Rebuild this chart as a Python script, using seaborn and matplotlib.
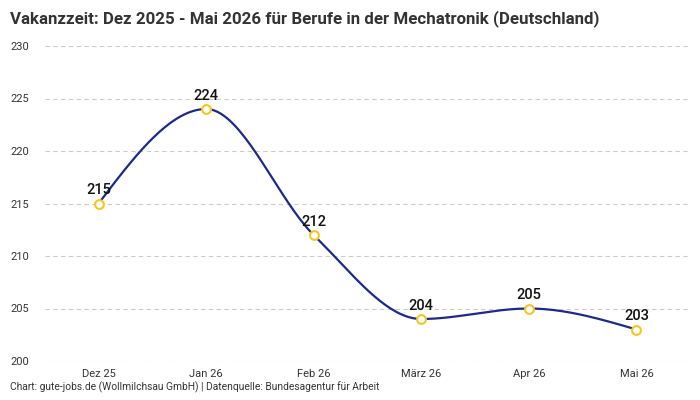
import numpy as np
import pandas as pd
import matplotlib
matplotlib.use("Agg")
import matplotlib.pyplot as plt
import seaborn as sns

months = ["Dez 25", "Jan 26", "Feb 26", "März 26", "Apr 26", "Mai 26"]
vacancy_days = [215, 224, 212, 204, 205, 203]

title = "Vakanzzeit: Dez 2025 - Mai 2026 für Berufe in der Mechatronik (Deutschland)"
footer = "Chart: gute-jobs.de (Wollmilchsau GmbH) | Datenquelle: Bundesagentur für Arbeit"

line_color = "#1b2a8c"
marker_color = "#f7c520"

sns.set_style("white")
plt.rcParams["font.family"] = ["Roboto", "DejaVu Sans"]


def monotone_x(x, y, n=40):
    # d3 curveMonotoneX style smoothing between the data points
    x = np.asarray(x, float)
    y = np.asarray(y, float)
    h = np.diff(x)
    s = np.diff(y) / h
    t = np.zeros_like(y)
    for i in range(1, len(y) - 1):
        p = (s[i - 1] * h[i] + s[i] * h[i - 1]) / (h[i - 1] + h[i])
        t[i] = (np.sign(s[i - 1]) + np.sign(s[i])) * min(abs(s[i - 1]), abs(s[i]), 0.5 * abs(p))
    t[0] = (3 * s[0] - t[1]) / 2
    t[-1] = (3 * s[-1] - t[-2]) / 2
    xs, ys = [], []
    for i in range(len(x) - 1):
        u = np.linspace(0, 1, n)
        h00 = 2 * u**3 - 3 * u**2 + 1
        h10 = u**3 - 2 * u**2 + u
        h01 = -2 * u**3 + 3 * u**2
        h11 = u**3 - u**2
        xs.append(x[i] + u * h[i])
        ys.append(h00 * y[i] + h10 * h[i] * t[i] + h01 * y[i + 1] + h11 * h[i] * t[i + 1])
    return np.concatenate(xs), np.concatenate(ys)


df = pd.DataFrame({"month": months, "days": vacancy_days})
df["pos"] = np.arange(len(df))

fig = plt.figure(figsize=(7, 4), dpi=100)
ax = fig.add_axes([0.064, 0.0975, 0.922, 0.7875])

sx, sy = monotone_x(df["pos"], df["days"])
sns.lineplot(x=sx, y=sy, ax=ax, color=line_color, linewidth=1.6, sort=False)
sns.scatterplot(data=df, x="pos", y="days", ax=ax, s=40, color="white",
                edgecolor=marker_color, linewidth=1.5, zorder=5)

for xp, v in zip(df["pos"], df["days"]):
    ax.annotate(str(v), (xp, v), xytext=(0, 4.5), textcoords="offset points",
                ha="center", va="bottom", fontsize=10.5, fontweight="medium", color="#111111")

ax.set_xlim(-0.5, 5.5)
ax.set_ylim(200, 230)
ax.set_yticks(range(200, 231, 5))
ax.set_xticks(df["pos"])
ax.set_xticklabels(months)
ax.set_xlabel("")
ax.set_ylabel("")
ax.tick_params(axis="both", length=0, labelsize=8, labelcolor="#333333")
ax.tick_params(axis="y", pad=11)
ax.tick_params(axis="x", pad=6)
ax.grid(axis="y", color="#cccccc", linestyle=(0, (4, 3)), linewidth=0.8)
ax.grid(axis="x", visible=False)
sns.despine(ax=ax, left=True, bottom=True)

fig.text(0.014, 0.975, title, fontsize=12.2, fontweight="bold", color="#333333", va="top", ha="left")
fig.text(0.014, 0.018, footer, fontsize=7.4, color="#333333", va="bottom", ha="left")

fig.savefig("out.png", dpi=100)
